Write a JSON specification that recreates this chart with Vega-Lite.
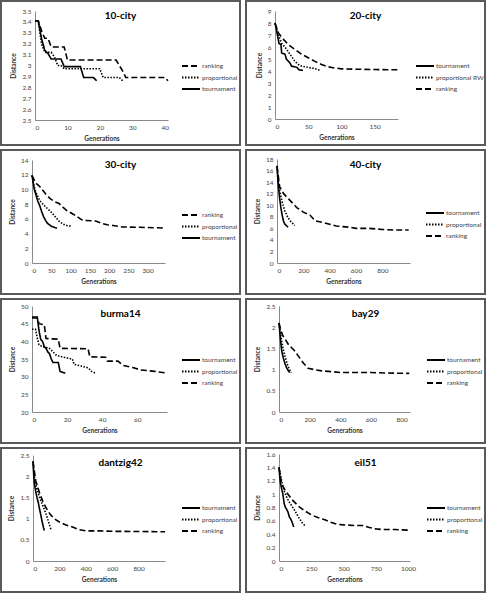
{
  "$schema": "https://vega.github.io/schema/vega-lite/v6.json",
  "padding": 0,
  "background": "white",
  "spacing": 3,
  "resolve": {"scale": {"strokeDash": "independent"}, "legend": {"strokeDash": "independent"}},
  "vconcat": [
    {"hconcat": [
      {
        "title": {"text": "10-city"},
        "width": 239, "height": 144,
        "data": {"name": "city10"},
        "mark": {"type": "line", "color": "black", "strokeWidth": 1.6},
        "encoding": {
          "x": {"field": "gen", "type": "quantitative", "scale": {"domain": [0, 41], "range": [34, 167], "nice": false, "zero": false}, "axis": {"offset": -25, "values": [0, 10, 20, 30, 40], "format": "d", "title": "Generations"}},
          "y": {"field": "dist", "type": "quantitative", "scale": {"domain": [2.5, 3.5], "range": [119, 10], "nice": false, "zero": false}, "axis": {"offset": -34, "values": [2.5, 2.6, 2.7, 2.8, 2.9, 3, 3.1, 3.2, 3.3, 3.4, 3.5], "format": "~f", "title": "Distance"}},
          "strokeDash": {"field": "method", "type": "nominal", "scale": {"domain": ["ranking", "proportional", "tournament"], "range": [[6, 3], [1.5, 1.5], [1, 0]]}, "legend": {"legendX": 183, "legendY": 58}}
        }
      },
      {
        "title": {"text": "20-city"},
        "width": 239, "height": 144,
        "data": {"name": "city20"},
        "mark": {"type": "line", "color": "black", "strokeWidth": 1.6},
        "encoding": {
          "x": {"field": "gen", "type": "quantitative", "scale": {"domain": [0, 185], "range": [29, 152], "nice": false, "zero": false}, "axis": {"offset": -26, "values": [0, 50, 100, 150], "format": "d", "title": "Generations"}},
          "y": {"field": "dist", "type": "quantitative", "scale": {"domain": [0, 9], "range": [118, 10], "nice": false, "zero": false}, "axis": {"offset": -29, "values": [0, 1, 2, 3, 4, 5, 6, 7, 8, 9], "format": "~f", "title": "Distance"}},
          "strokeDash": {"field": "method", "type": "nominal", "scale": {"domain": ["tournament", "proportional RW", "ranking"], "range": [[1, 0], [1.5, 1.5], [6, 3]]}, "legend": {"legendX": 172, "legendY": 58}}
        }
      }
    ], "spacing": 4, "resolve": {"scale": {"strokeDash": "independent"}, "legend": {"strokeDash": "independent"}}},
    {"hconcat": [
      {
        "title": {"text": "30-city"},
        "width": 239, "height": 144,
        "data": {"name": "city30"},
        "mark": {"type": "line", "color": "black", "strokeWidth": 1.6},
        "encoding": {
          "x": {"field": "gen", "type": "quantitative", "scale": {"domain": [0, 345], "range": [31, 164], "nice": false, "zero": false}, "axis": {"offset": -31, "values": [0, 50, 100, 150, 200, 250, 300], "format": "d", "title": "Generations"}},
          "y": {"field": "dist", "type": "quantitative", "scale": {"domain": [0, 14], "range": [113, 10], "nice": false, "zero": false}, "axis": {"offset": -31, "values": [0, 2, 4, 6, 8, 10, 12, 14], "format": "~f", "title": "Distance"}},
          "strokeDash": {"field": "method", "type": "nominal", "scale": {"domain": ["ranking", "proportional", "tournament"], "range": [[6, 3], [1.5, 1.5], [1, 0]]}, "legend": {"legendX": 183, "legendY": 58}}
        }
      },
      {
        "title": {"text": "40-city"},
        "width": 239, "height": 144,
        "data": {"name": "city40"},
        "mark": {"type": "line", "color": "black", "strokeWidth": 1.6},
        "encoding": {
          "x": {"field": "gen", "type": "quantitative", "scale": {"domain": [0, 1010], "range": [31, 164], "nice": false, "zero": false}, "axis": {"offset": -31, "values": [0, 200, 400, 600, 800], "format": "d", "title": "Generations"}},
          "y": {"field": "dist", "type": "quantitative", "scale": {"domain": [0, 18], "range": [113, 9], "nice": false, "zero": false}, "axis": {"offset": -31, "values": [0, 2, 4, 6, 8, 10, 12, 14, 16, 18], "format": "~f", "title": "Distance"}},
          "strokeDash": {"field": "method", "type": "nominal", "scale": {"domain": ["tournament", "proportional", "ranking"], "range": [[1, 0], [1.5, 1.5], [6, 3]]}, "legend": {"legendX": 182, "legendY": 56}}
        }
      }
    ], "spacing": 4, "resolve": {"scale": {"strokeDash": "independent"}, "legend": {"strokeDash": "independent"}}},
    {"hconcat": [
      {
        "title": {"text": "burma14"},
        "width": 239, "height": 144,
        "data": {"name": "burma14"},
        "mark": {"type": "line", "color": "black", "strokeWidth": 1.6},
        "encoding": {
          "x": {"field": "gen", "type": "quantitative", "scale": {"domain": [0, 77], "range": [31, 166], "nice": false, "zero": false}, "axis": {"offset": -31, "values": [0, 20, 40, 60], "format": "d", "title": "Generations"}},
          "y": {"field": "dist", "type": "quantitative", "scale": {"domain": [20, 50], "range": [113, 7], "nice": false, "zero": false}, "axis": {"offset": -31, "values": [20, 25, 30, 35, 40, 45, 50], "format": "~f", "title": "Distance"}},
          "strokeDash": {"field": "method", "type": "nominal", "scale": {"domain": ["tournament", "proportional", "ranking"], "range": [[1, 0], [1.5, 1.5], [6, 3]]}, "legend": {"legendX": 183, "legendY": 54}}
        }
      },
      {
        "title": {"text": "bay29"},
        "width": 239, "height": 144,
        "data": {"name": "bay29"},
        "mark": {"type": "line", "color": "black", "strokeWidth": 1.6},
        "encoding": {
          "x": {"field": "gen", "type": "quantitative", "scale": {"domain": [0, 855], "range": [33, 164], "nice": false, "zero": false}, "axis": {"offset": -31, "values": [0, 200, 400, 600, 800], "format": "d", "title": "Generations"}},
          "y": {"field": "dist", "type": "quantitative", "scale": {"domain": [0, 2.5], "range": [113, 7], "nice": false, "zero": false}, "axis": {"offset": -33, "values": [0, 0.5, 1, 1.5, 2, 2.5], "format": "~f", "title": "Distance"}},
          "strokeDash": {"field": "method", "type": "nominal", "scale": {"domain": ["tournament", "proportional", "ranking"], "range": [[1, 0], [1.5, 1.5], [6, 3]]}, "legend": {"legendX": 183, "legendY": 54}}
        }
      }
    ], "spacing": 4, "resolve": {"scale": {"strokeDash": "independent"}, "legend": {"strokeDash": "independent"}}},
    {"hconcat": [
      {
        "title": {"text": "dantzig42"},
        "width": 239, "height": 144,
        "data": {"name": "dantzig42"},
        "mark": {"type": "line", "color": "black", "strokeWidth": 1.6},
        "encoding": {
          "x": {"field": "gen", "type": "quantitative", "scale": {"domain": [0, 1000], "range": [32, 164], "nice": false, "zero": false}, "axis": {"offset": -31, "values": [0, 200, 400, 600, 800], "format": "d", "title": "Generations"}},
          "y": {"field": "dist", "type": "quantitative", "scale": {"domain": [0, 2.5], "range": [113, 7], "nice": false, "zero": false}, "axis": {"offset": -32, "values": [0, 0.5, 1, 1.5, 2, 2.5], "format": "~f", "title": "Distance"}},
          "strokeDash": {"field": "method", "type": "nominal", "scale": {"domain": ["tournament", "proportional", "ranking"], "range": [[1, 0], [1.5, 1.5], [6, 3]]}, "legend": {"legendX": 183, "legendY": 53}}
        }
      },
      {
        "title": {"text": "eil51"},
        "width": 239, "height": 144,
        "data": {"name": "eil51"},
        "mark": {"type": "line", "color": "black", "strokeWidth": 1.6},
        "encoding": {
          "x": {"field": "gen", "type": "quantitative", "scale": {"domain": [0, 1015], "range": [33, 164], "nice": false, "zero": false}, "axis": {"offset": -31, "values": [0, 250, 500, 750, 1000], "format": "d", "title": "Generations"}},
          "y": {"field": "dist", "type": "quantitative", "scale": {"domain": [0, 1.6], "range": [113, 6], "nice": false, "zero": false}, "axis": {"offset": -33, "values": [0, 0.2, 0.4, 0.6, 0.8, 1, 1.2, 1.4, 1.6], "format": "~f", "title": "Distance"}},
          "strokeDash": {"field": "method", "type": "nominal", "scale": {"domain": ["tournament", "proportional", "ranking"], "range": [[1, 0], [1.5, 1.5], [6, 3]]}, "legend": {"legendX": 183, "legendY": 53}}
        }
      }
    ], "spacing": 4, "resolve": {"scale": {"strokeDash": "independent"}, "legend": {"strokeDash": "independent"}}}
  ],
  "datasets": {
    "city10": [
      {"gen": 0, "dist": 3.41, "method": "ranking"}, {"gen": 1, "dist": 3.41, "method": "ranking"}, {"gen": 2, "dist": 3.32, "method": "ranking"}, {"gen": 3, "dist": 3.25, "method": "ranking"}, {"gen": 4, "dist": 3.25, "method": "ranking"}, {"gen": 5, "dist": 3.17, "method": "ranking"}, {"gen": 9, "dist": 3.17, "method": "ranking"}, {"gen": 10, "dist": 3.05, "method": "ranking"}, {"gen": 25, "dist": 3.05, "method": "ranking"}, {"gen": 26, "dist": 3.0, "method": "ranking"}, {"gen": 27, "dist": 2.95, "method": "ranking"}, {"gen": 28, "dist": 2.89, "method": "ranking"}, {"gen": 40, "dist": 2.89, "method": "ranking"}, {"gen": 41, "dist": 2.86, "method": "ranking"},
      {"gen": 0, "dist": 3.41, "method": "proportional"}, {"gen": 1, "dist": 3.41, "method": "proportional"}, {"gen": 2, "dist": 3.2, "method": "proportional"}, {"gen": 3, "dist": 3.12, "method": "proportional"}, {"gen": 5, "dist": 3.12, "method": "proportional"}, {"gen": 6, "dist": 3.08, "method": "proportional"}, {"gen": 7, "dist": 3.0, "method": "proportional"}, {"gen": 8, "dist": 3.0, "method": "proportional"}, {"gen": 9, "dist": 2.97, "method": "proportional"}, {"gen": 20, "dist": 2.97, "method": "proportional"}, {"gen": 21, "dist": 2.89, "method": "proportional"}, {"gen": 26, "dist": 2.89, "method": "proportional"}, {"gen": 27, "dist": 2.86, "method": "proportional"},
      {"gen": 0, "dist": 3.41, "method": "tournament"}, {"gen": 1, "dist": 3.41, "method": "tournament"}, {"gen": 2, "dist": 3.25, "method": "tournament"}, {"gen": 3, "dist": 3.14, "method": "tournament"}, {"gen": 4, "dist": 3.11, "method": "tournament"}, {"gen": 5, "dist": 3.06, "method": "tournament"}, {"gen": 8, "dist": 3.06, "method": "tournament"}, {"gen": 9, "dist": 2.99, "method": "tournament"}, {"gen": 14, "dist": 2.99, "method": "tournament"}, {"gen": 15, "dist": 2.89, "method": "tournament"}, {"gen": 18, "dist": 2.89, "method": "tournament"}, {"gen": 19, "dist": 2.86, "method": "tournament"}
    ],
    "city20": [
      {"gen": 0, "dist": 8.0, "method": "tournament"}, {"gen": 2, "dist": 7.5, "method": "tournament"}, {"gen": 4, "dist": 6.9, "method": "tournament"}, {"gen": 6, "dist": 6.3, "method": "tournament"}, {"gen": 9, "dist": 6.2, "method": "tournament"}, {"gen": 10, "dist": 5.5, "method": "tournament"}, {"gen": 15, "dist": 5.4, "method": "tournament"}, {"gen": 17, "dist": 5.0, "method": "tournament"}, {"gen": 22, "dist": 4.7, "method": "tournament"}, {"gen": 25, "dist": 4.4, "method": "tournament"}, {"gen": 33, "dist": 4.3, "method": "tournament"}, {"gen": 36, "dist": 4.1, "method": "tournament"}, {"gen": 42, "dist": 4.05, "method": "tournament"},
      {"gen": 0, "dist": 8.0, "method": "proportional RW"}, {"gen": 5, "dist": 7.0, "method": "proportional RW"}, {"gen": 10, "dist": 6.3, "method": "proportional RW"}, {"gen": 15, "dist": 6.0, "method": "proportional RW"}, {"gen": 20, "dist": 5.6, "method": "proportional RW"}, {"gen": 25, "dist": 5.2, "method": "proportional RW"}, {"gen": 30, "dist": 4.8, "method": "proportional RW"}, {"gen": 35, "dist": 4.55, "method": "proportional RW"}, {"gen": 40, "dist": 4.4, "method": "proportional RW"}, {"gen": 50, "dist": 4.3, "method": "proportional RW"}, {"gen": 60, "dist": 4.2, "method": "proportional RW"}, {"gen": 68, "dist": 4.05, "method": "proportional RW"},
      {"gen": 0, "dist": 8.0, "method": "ranking"}, {"gen": 5, "dist": 7.2, "method": "ranking"}, {"gen": 10, "dist": 6.8, "method": "ranking"}, {"gen": 20, "dist": 6.2, "method": "ranking"}, {"gen": 30, "dist": 5.8, "method": "ranking"}, {"gen": 40, "dist": 5.4, "method": "ranking"}, {"gen": 50, "dist": 5.1, "method": "ranking"}, {"gen": 60, "dist": 4.8, "method": "ranking"}, {"gen": 70, "dist": 4.55, "method": "ranking"}, {"gen": 80, "dist": 4.35, "method": "ranking"}, {"gen": 90, "dist": 4.25, "method": "ranking"}, {"gen": 100, "dist": 4.18, "method": "ranking"}, {"gen": 120, "dist": 4.15, "method": "ranking"}, {"gen": 150, "dist": 4.12, "method": "ranking"}, {"gen": 185, "dist": 4.1, "method": "ranking"}
    ],
    "city30": [
      {"gen": 0, "dist": 11.9, "method": "tournament"}, {"gen": 3, "dist": 11.0, "method": "tournament"}, {"gen": 6, "dist": 10.0, "method": "tournament"}, {"gen": 10, "dist": 9.3, "method": "tournament"}, {"gen": 15, "dist": 8.4, "method": "tournament"}, {"gen": 20, "dist": 7.8, "method": "tournament"}, {"gen": 25, "dist": 7.0, "method": "tournament"}, {"gen": 30, "dist": 6.3, "method": "tournament"}, {"gen": 35, "dist": 5.8, "method": "tournament"}, {"gen": 40, "dist": 5.4, "method": "tournament"}, {"gen": 50, "dist": 5.0, "method": "tournament"}, {"gen": 60, "dist": 4.8, "method": "tournament"}, {"gen": 65, "dist": 4.75, "method": "tournament"},
      {"gen": 0, "dist": 11.9, "method": "proportional"}, {"gen": 5, "dist": 10.5, "method": "proportional"}, {"gen": 10, "dist": 9.6, "method": "proportional"}, {"gen": 20, "dist": 8.5, "method": "proportional"}, {"gen": 30, "dist": 7.9, "method": "proportional"}, {"gen": 40, "dist": 7.4, "method": "proportional"}, {"gen": 50, "dist": 6.9, "method": "proportional"}, {"gen": 60, "dist": 6.3, "method": "proportional"}, {"gen": 70, "dist": 5.7, "method": "proportional"}, {"gen": 80, "dist": 5.3, "method": "proportional"}, {"gen": 90, "dist": 5.1, "method": "proportional"}, {"gen": 103, "dist": 5.0, "method": "proportional"},
      {"gen": 0, "dist": 11.9, "method": "ranking"}, {"gen": 9, "dist": 10.9, "method": "ranking"}, {"gen": 20, "dist": 10.4, "method": "ranking"}, {"gen": 26, "dist": 10.0, "method": "ranking"}, {"gen": 35, "dist": 9.4, "method": "ranking"}, {"gen": 48, "dist": 8.7, "method": "ranking"}, {"gen": 60, "dist": 8.3, "method": "ranking"}, {"gen": 70, "dist": 8.1, "method": "ranking"}, {"gen": 80, "dist": 7.6, "method": "ranking"}, {"gen": 91, "dist": 7.1, "method": "ranking"}, {"gen": 105, "dist": 6.7, "method": "ranking"}, {"gen": 117, "dist": 6.3, "method": "ranking"}, {"gen": 128, "dist": 5.9, "method": "ranking"}, {"gen": 135, "dist": 5.8, "method": "ranking"}, {"gen": 165, "dist": 5.7, "method": "ranking"}, {"gen": 180, "dist": 5.4, "method": "ranking"}, {"gen": 195, "dist": 5.2, "method": "ranking"}, {"gen": 210, "dist": 5.1, "method": "ranking"}, {"gen": 235, "dist": 4.9, "method": "ranking"}, {"gen": 280, "dist": 4.85, "method": "ranking"}, {"gen": 345, "dist": 4.75, "method": "ranking"}
    ],
    "city40": [
      {"gen": 0, "dist": 16.8, "method": "tournament"}, {"gen": 5, "dist": 15.0, "method": "tournament"}, {"gen": 10, "dist": 13.5, "method": "tournament"}, {"gen": 15, "dist": 12.3, "method": "tournament"}, {"gen": 20, "dist": 11.2, "method": "tournament"}, {"gen": 30, "dist": 9.5, "method": "tournament"}, {"gen": 40, "dist": 8.2, "method": "tournament"}, {"gen": 50, "dist": 7.2, "method": "tournament"}, {"gen": 60, "dist": 6.7, "method": "tournament"}, {"gen": 70, "dist": 6.5, "method": "tournament"}, {"gen": 84, "dist": 6.2, "method": "tournament"},
      {"gen": 0, "dist": 16.8, "method": "proportional"}, {"gen": 10, "dist": 14.2, "method": "proportional"}, {"gen": 20, "dist": 12.5, "method": "proportional"}, {"gen": 40, "dist": 10.5, "method": "proportional"}, {"gen": 60, "dist": 9.0, "method": "proportional"}, {"gen": 80, "dist": 8.0, "method": "proportional"}, {"gen": 100, "dist": 7.3, "method": "proportional"}, {"gen": 135, "dist": 6.5, "method": "proportional"},
      {"gen": 0, "dist": 16.8, "method": "ranking"}, {"gen": 20, "dist": 13.2, "method": "ranking"}, {"gen": 50, "dist": 12.0, "method": "ranking"}, {"gen": 100, "dist": 10.8, "method": "ranking"}, {"gen": 150, "dist": 9.6, "method": "ranking"}, {"gen": 200, "dist": 8.8, "method": "ranking"}, {"gen": 250, "dist": 8.3, "method": "ranking"}, {"gen": 290, "dist": 7.3, "method": "ranking"}, {"gen": 350, "dist": 7.0, "method": "ranking"}, {"gen": 400, "dist": 6.7, "method": "ranking"}, {"gen": 450, "dist": 6.4, "method": "ranking"}, {"gen": 500, "dist": 6.3, "method": "ranking"}, {"gen": 550, "dist": 6.2, "method": "ranking"}, {"gen": 600, "dist": 6.0, "method": "ranking"}, {"gen": 700, "dist": 6.0, "method": "ranking"}, {"gen": 800, "dist": 5.8, "method": "ranking"}, {"gen": 900, "dist": 5.7, "method": "ranking"}, {"gen": 1000, "dist": 5.7, "method": "ranking"}
    ],
    "burma14": [
      {"gen": 0, "dist": 46.9, "method": "tournament"}, {"gen": 3, "dist": 46.9, "method": "tournament"}, {"gen": 4, "dist": 43.0, "method": "tournament"}, {"gen": 5, "dist": 40.5, "method": "tournament"}, {"gen": 6, "dist": 40.0, "method": "tournament"}, {"gen": 7, "dist": 38.5, "method": "tournament"}, {"gen": 8, "dist": 38.0, "method": "tournament"}, {"gen": 9, "dist": 37.0, "method": "tournament"}, {"gen": 10, "dist": 36.5, "method": "tournament"}, {"gen": 11, "dist": 35.0, "method": "tournament"}, {"gen": 12, "dist": 34.0, "method": "tournament"}, {"gen": 15, "dist": 34.0, "method": "tournament"}, {"gen": 16, "dist": 31.5, "method": "tournament"}, {"gen": 17, "dist": 31.3, "method": "tournament"}, {"gen": 19, "dist": 31.0, "method": "tournament"},
      {"gen": 0, "dist": 43.4, "method": "proportional"}, {"gen": 2, "dist": 43.4, "method": "proportional"}, {"gen": 3, "dist": 41.0, "method": "proportional"}, {"gen": 4, "dist": 39.0, "method": "proportional"}, {"gen": 6, "dist": 38.5, "method": "proportional"}, {"gen": 10, "dist": 38.0, "method": "proportional"}, {"gen": 12, "dist": 37.0, "method": "proportional"}, {"gen": 14, "dist": 36.0, "method": "proportional"}, {"gen": 18, "dist": 35.5, "method": "proportional"}, {"gen": 23, "dist": 35.0, "method": "proportional"}, {"gen": 24, "dist": 33.5, "method": "proportional"}, {"gen": 28, "dist": 33.0, "method": "proportional"}, {"gen": 32, "dist": 32.5, "method": "proportional"}, {"gen": 34, "dist": 31.5, "method": "proportional"}, {"gen": 36, "dist": 31.0, "method": "proportional"},
      {"gen": 0, "dist": 46.6, "method": "ranking"}, {"gen": 3, "dist": 46.6, "method": "ranking"}, {"gen": 4, "dist": 45.0, "method": "ranking"}, {"gen": 7, "dist": 44.7, "method": "ranking"}, {"gen": 8, "dist": 40.8, "method": "ranking"}, {"gen": 15, "dist": 40.6, "method": "ranking"}, {"gen": 16, "dist": 38.0, "method": "ranking"}, {"gen": 32, "dist": 37.9, "method": "ranking"}, {"gen": 33, "dist": 35.6, "method": "ranking"}, {"gen": 42, "dist": 35.5, "method": "ranking"}, {"gen": 43, "dist": 34.4, "method": "ranking"}, {"gen": 49, "dist": 34.4, "method": "ranking"}, {"gen": 52, "dist": 33.2, "method": "ranking"}, {"gen": 58, "dist": 32.5, "method": "ranking"}, {"gen": 62, "dist": 31.9, "method": "ranking"}, {"gen": 70, "dist": 31.5, "method": "ranking"}, {"gen": 77, "dist": 31.0, "method": "ranking"}
    ],
    "bay29": [
      {"gen": 0, "dist": 2.1, "method": "tournament"}, {"gen": 5, "dist": 1.9, "method": "tournament"}, {"gen": 10, "dist": 1.7, "method": "tournament"}, {"gen": 15, "dist": 1.52, "method": "tournament"}, {"gen": 20, "dist": 1.4, "method": "tournament"}, {"gen": 30, "dist": 1.25, "method": "tournament"}, {"gen": 40, "dist": 1.13, "method": "tournament"}, {"gen": 50, "dist": 1.04, "method": "tournament"}, {"gen": 60, "dist": 0.98, "method": "tournament"}, {"gen": 70, "dist": 0.93, "method": "tournament"},
      {"gen": 0, "dist": 2.1, "method": "proportional"}, {"gen": 10, "dist": 1.85, "method": "proportional"}, {"gen": 20, "dist": 1.62, "method": "proportional"}, {"gen": 30, "dist": 1.44, "method": "proportional"}, {"gen": 40, "dist": 1.3, "method": "proportional"}, {"gen": 50, "dist": 1.17, "method": "proportional"}, {"gen": 60, "dist": 1.07, "method": "proportional"}, {"gen": 70, "dist": 0.99, "method": "proportional"}, {"gen": 80, "dist": 0.93, "method": "proportional"},
      {"gen": 0, "dist": 2.1, "method": "ranking"}, {"gen": 10, "dist": 1.95, "method": "ranking"}, {"gen": 25, "dist": 1.8, "method": "ranking"}, {"gen": 40, "dist": 1.72, "method": "ranking"}, {"gen": 60, "dist": 1.6, "method": "ranking"}, {"gen": 100, "dist": 1.45, "method": "ranking"}, {"gen": 130, "dist": 1.3, "method": "ranking"}, {"gen": 160, "dist": 1.15, "method": "ranking"}, {"gen": 190, "dist": 1.03, "method": "ranking"}, {"gen": 230, "dist": 1.0, "method": "ranking"}, {"gen": 280, "dist": 0.97, "method": "ranking"}, {"gen": 350, "dist": 0.95, "method": "ranking"}, {"gen": 400, "dist": 0.93, "method": "ranking"}, {"gen": 600, "dist": 0.93, "method": "ranking"}, {"gen": 700, "dist": 0.92, "method": "ranking"}, {"gen": 850, "dist": 0.91, "method": "ranking"}
    ],
    "dantzig42": [
      {"gen": 0, "dist": 2.35, "method": "tournament"}, {"gen": 5, "dist": 2.05, "method": "tournament"}, {"gen": 10, "dist": 1.85, "method": "tournament"}, {"gen": 20, "dist": 1.65, "method": "tournament"}, {"gen": 30, "dist": 1.5, "method": "tournament"}, {"gen": 40, "dist": 1.38, "method": "tournament"}, {"gen": 50, "dist": 1.22, "method": "tournament"}, {"gen": 60, "dist": 1.07, "method": "tournament"}, {"gen": 70, "dist": 0.92, "method": "tournament"}, {"gen": 80, "dist": 0.78, "method": "tournament"}, {"gen": 86, "dist": 0.72, "method": "tournament"},
      {"gen": 0, "dist": 2.35, "method": "proportional"}, {"gen": 10, "dist": 2.0, "method": "proportional"}, {"gen": 25, "dist": 1.75, "method": "proportional"}, {"gen": 50, "dist": 1.5, "method": "proportional"}, {"gen": 75, "dist": 1.3, "method": "proportional"}, {"gen": 100, "dist": 1.1, "method": "proportional"}, {"gen": 120, "dist": 0.9, "method": "proportional"}, {"gen": 135, "dist": 0.75, "method": "proportional"},
      {"gen": 0, "dist": 2.35, "method": "ranking"}, {"gen": 20, "dist": 1.9, "method": "ranking"}, {"gen": 50, "dist": 1.6, "method": "ranking"}, {"gen": 75, "dist": 1.4, "method": "ranking"}, {"gen": 100, "dist": 1.25, "method": "ranking"}, {"gen": 130, "dist": 1.1, "method": "ranking"}, {"gen": 160, "dist": 1.0, "method": "ranking"}, {"gen": 200, "dist": 0.92, "method": "ranking"}, {"gen": 250, "dist": 0.85, "method": "ranking"}, {"gen": 300, "dist": 0.8, "method": "ranking"}, {"gen": 350, "dist": 0.74, "method": "ranking"}, {"gen": 400, "dist": 0.71, "method": "ranking"}, {"gen": 500, "dist": 0.71, "method": "ranking"}, {"gen": 600, "dist": 0.7, "method": "ranking"}, {"gen": 1000, "dist": 0.69, "method": "ranking"}
    ],
    "eil51": [
      {"gen": 0, "dist": 1.4, "method": "tournament"}, {"gen": 5, "dist": 1.28, "method": "tournament"}, {"gen": 10, "dist": 1.18, "method": "tournament"}, {"gen": 20, "dist": 1.08, "method": "tournament"}, {"gen": 30, "dist": 1.0, "method": "tournament"}, {"gen": 40, "dist": 0.86, "method": "tournament"}, {"gen": 50, "dist": 0.8, "method": "tournament"}, {"gen": 60, "dist": 0.77, "method": "tournament"}, {"gen": 70, "dist": 0.73, "method": "tournament"}, {"gen": 80, "dist": 0.66, "method": "tournament"}, {"gen": 90, "dist": 0.63, "method": "tournament"}, {"gen": 100, "dist": 0.59, "method": "tournament"}, {"gen": 114, "dist": 0.51, "method": "tournament"},
      {"gen": 0, "dist": 1.4, "method": "proportional"}, {"gen": 20, "dist": 1.2, "method": "proportional"}, {"gen": 40, "dist": 1.05, "method": "proportional"}, {"gen": 60, "dist": 0.95, "method": "proportional"}, {"gen": 80, "dist": 0.88, "method": "proportional"}, {"gen": 100, "dist": 0.82, "method": "proportional"}, {"gen": 120, "dist": 0.76, "method": "proportional"}, {"gen": 150, "dist": 0.66, "method": "proportional"}, {"gen": 180, "dist": 0.57, "method": "proportional"}, {"gen": 205, "dist": 0.52, "method": "proportional"},
      {"gen": 0, "dist": 1.4, "method": "ranking"}, {"gen": 20, "dist": 1.15, "method": "ranking"}, {"gen": 50, "dist": 1.05, "method": "ranking"}, {"gen": 100, "dist": 0.92, "method": "ranking"}, {"gen": 150, "dist": 0.82, "method": "ranking"}, {"gen": 200, "dist": 0.75, "method": "ranking"}, {"gen": 250, "dist": 0.69, "method": "ranking"}, {"gen": 300, "dist": 0.65, "method": "ranking"}, {"gen": 350, "dist": 0.62, "method": "ranking"}, {"gen": 400, "dist": 0.58, "method": "ranking"}, {"gen": 450, "dist": 0.55, "method": "ranking"}, {"gen": 500, "dist": 0.54, "method": "ranking"}, {"gen": 600, "dist": 0.53, "method": "ranking"}, {"gen": 650, "dist": 0.53, "method": "ranking"}, {"gen": 700, "dist": 0.5, "method": "ranking"}, {"gen": 750, "dist": 0.48, "method": "ranking"}, {"gen": 800, "dist": 0.47, "method": "ranking"}, {"gen": 900, "dist": 0.47, "method": "ranking"}, {"gen": 1010, "dist": 0.46, "method": "ranking"}
    ]
  },
  "config": {
    "font": "Lato",
    "view": {"stroke": "#5a5a5a", "strokeWidth": 2},
    "title": {"font": "Lato", "fontSize": 10, "fontWeight": "bold", "color": "black", "offset": -20, "anchor": "middle"},
    "axis": {
      "grid": false,
      "ticks": false,
      "domainColor": "#8a8a8a",
      "domainWidth": 1,
      "labelFont": "Lato",
      "labelFontSize": 6.5,
      "labelColor": "#444444",
      "labelPadding": 4,
      "titleFont": "Lato",
      "titleFontSize": 6.5,
      "titleFontWeight": "bold",
      "titleColor": "#333333",
      "titlePadding": 5
    },
    "legend": {
      "orient": "none",
      "title": null,
      "symbolType": "M-1.5,0H1.5",
      "symbolSize": 144,
      "symbolStrokeWidth": 2,
      "symbolStrokeColor": "black",
      "labelFont": "Lato",
      "labelFontSize": 6.5,
      "labelColor": "#444444",
      "labelOffset": 4,
      "rowPadding": 0.5
    }
  }
}
